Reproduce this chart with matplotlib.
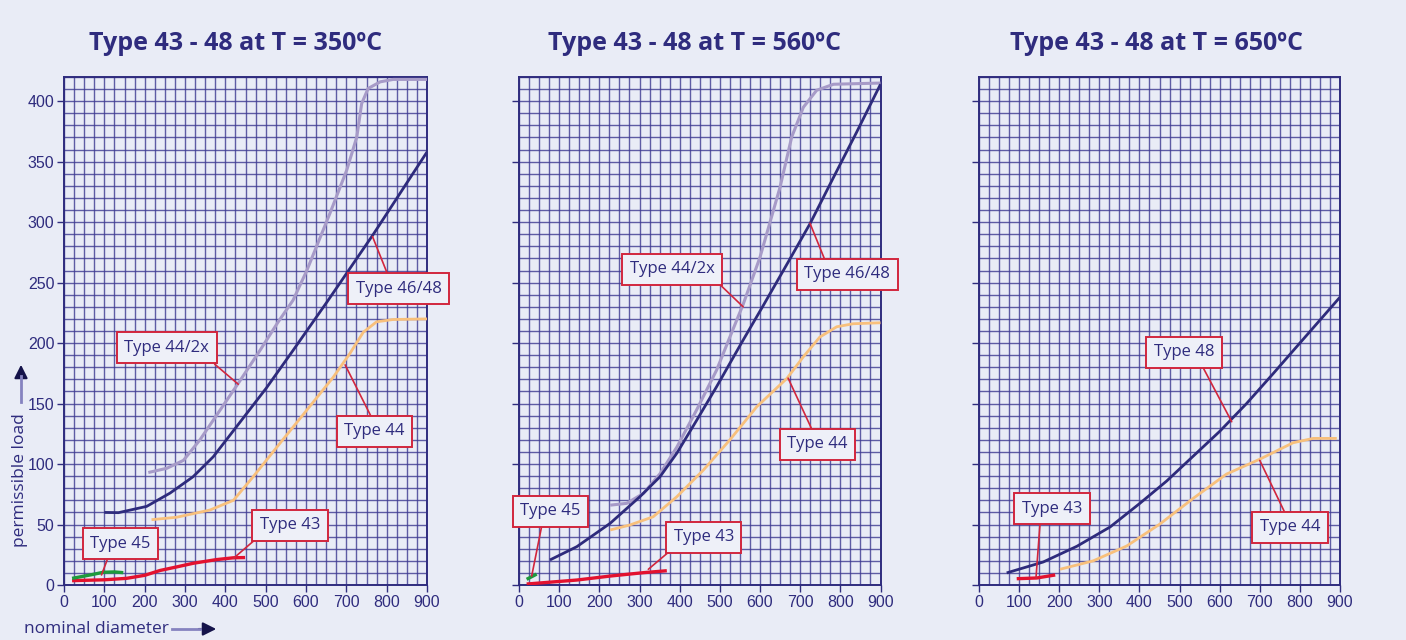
import matplotlib
matplotlib.use("Agg")
import matplotlib.pyplot as plt
from matplotlib.ticker import MultipleLocator
from matplotlib.patches import FancyArrowPatch
from matplotlib.lines import Line2D

# ---------------- data ----------------
titles = ["Type 43 - 48 at T = 350ºC", "Type 43 - 48 at T = 560ºC", "Type 43 - 48 at T = 650ºC"]
x_ticks = [0, 100, 200, 300, 400, 500, 600, 700, 800, 900]
y_ticks = [0, 50, 100, 150, 200, 250, 300, 350, 400]

# 350 ºC
p1_t4648_x = [100, 135, 205, 263, 320, 370, 428, 502, 568, 652, 767, 900]
p1_t4648_y = [60, 59.8, 65, 76, 89.5, 106, 131, 163, 194, 234, 290, 358]
p1_t442x_x = [209, 255, 296, 337, 387, 432, 486, 530, 568, 602, 659, 701, 726, 738, 754, 784, 816, 900]
p1_t442x_y = [93, 96.5, 103, 120, 144.6, 166.7, 194, 217, 235.5, 260, 307, 343, 370.5, 398, 410.5, 416, 418, 418]
p1_t44_x = [217, 279, 362, 420, 469, 535, 602, 668, 709, 742, 775, 816, 900]
p1_t44_y = [54, 56, 62, 70, 89.5, 117, 144.6, 172, 191.5, 209, 217.6, 219.5, 220]
p1_t43_x = [20, 100, 155, 200, 238, 280, 321, 378, 420, 449]
p1_t43_y = [3.6, 4.3, 5.5, 8, 12, 15, 18, 21, 22.5, 22.7]
p1_t45_x = [20, 65, 97, 125, 147]
p1_t45_y = [5.5, 8.3, 10.5, 10.8, 10.2]

# 560 ºC
p2_t4648_x = [77, 144, 227, 301, 351, 393, 442, 492, 558, 608, 665, 725, 783, 840, 900]
p2_t4648_y = [20.7, 31.7, 51, 73, 89.5, 109, 136, 164, 202.5, 231, 264, 299, 337, 374, 414]
p2_t442x_x = [227, 268, 310, 351, 393, 442, 492, 525, 558, 600, 650, 679, 708, 741, 783, 900]
p2_t442x_y = [66, 67.5, 75.8, 92, 114, 144.6, 177.7, 205, 232, 271, 329, 370.5, 395, 409, 414, 415]
p2_t44_x = [227, 276, 334, 393, 459, 525, 592, 667, 708, 749, 791, 832, 900]
p2_t44_y = [45.5, 49.6, 56.4, 73, 95, 120, 147.4, 170.8, 188.7, 205, 213.5, 216, 216.8]
p2_t43_x = [19, 144, 227, 310, 368]
p2_t43_y = [0.8, 4.1, 7.4, 10.2, 11.8]
p2_t45_x = [19, 44]
p2_t45_y = [4.7, 9]

# 650 ºC
p3_t48_x = [69, 160, 244, 327, 401, 468, 534, 600, 667, 734, 784, 850, 900]
p3_t48_y = [10, 19, 32, 48, 67.5, 86, 106.5, 127, 150, 175, 194, 219, 238]
p3_t44_x = [202, 285, 368, 451, 534, 617, 700, 783, 833, 892]
p3_t44_y = [13, 20, 32.2, 50.4, 71.6, 91.7, 104, 117.6, 121.2, 121.2]
p3_t43_x = [94, 144, 190]
p3_t43_y = [5.2, 5.8, 8.3]

# ---------------- style ----------------
BG = "#e9ecf6"
NAVY = "#2f2c7e"
GRID = "#3f3c92"
C_4648 = "#2e2b7c"
C_442X = "#a79bc8"
C_44 = "#f8c07c"
C_43 = "#e3122f"
C_45 = "#1e9a3c"
BOX_EC = "#d2263d"
FONT = "Open Sans"
TICKFONT = "Liberation Sans"

W, H = 1406, 640
fig = plt.figure(figsize=(W / 100, H / 100), dpi=100, facecolor=BG)

panels = [(64, 427), (519, 880.5), (979, 1340)]
title_cx = [236, 694, 1156]
ybot, ytop = 585, 77

series = [
    [(p1_t442x_x, p1_t442x_y, C_442X, 2.2), (p1_t4648_x, p1_t4648_y, C_4648, 2.0),
     (p1_t44_x, p1_t44_y, C_44, 2.0), (p1_t43_x, p1_t43_y, C_43, 2.4),
     (p1_t45_x, p1_t45_y, C_45, 2.4)],
    [(p2_t442x_x, p2_t442x_y, C_442X, 2.2), (p2_t4648_x, p2_t4648_y, C_4648, 2.0),
     (p2_t44_x, p2_t44_y, C_44, 2.0), (p2_t43_x, p2_t43_y, C_43, 2.4),
     (p2_t45_x, p2_t45_y, C_45, 2.4)],
    [(p3_t48_x, p3_t48_y, C_4648, 2.0), (p3_t44_x, p3_t44_y, C_44, 2.0),
     (p3_t43_x, p3_t43_y, C_43, 2.4)],
]

# label, point on curve, box centre, relpos of leader start
annotations = [
    [("Type 44/2x", (432, 166), (255, 196), (0.95, 0)),
     ("Type 46/48", (765, 288), (830, 245), (0.4, 1)),
     ("Type 44", (697, 182), (770, 127), (0.5, 1)),
     ("Type 43", (420, 22), (560, 49.5), (0.05, 0)),
     ("Type 45", (93, 8.3), (140, 34), (0.33, 0))],
    [("Type 44/2x", (558, 230), (382, 261), (0.97, 0)),
     ("Type 46/48", (724.5, 299), (817, 257), (0.27, 1)),
     ("Type 44", (670, 171), (743, 116.5), (0.46, 1)),
     ("Type 43", (322, 13), (460, 39.4), (0.05, 0)),
     ("Type 45", (31.6, 7.4), (78, 61), (0.38, 0))],
    [("Type 48", (630, 135), (511, 192.6), (0.75, 0)),
     ("Type 44", (700, 103), (775, 47.7), (0.47, 1)),
     ("Type 43", (142, 5.5), (182, 63), (0.31, 0))],
]

for i, (l, r) in enumerate(panels):
    ax = fig.add_axes([l / W, 1 - ybot / H, (r - l) / W, (ybot - ytop) / H])
    ax.set_facecolor(BG)
    ax.set_xlim(0, 900)
    ax.set_ylim(0, 420)
    ax.set_xticks(x_ticks)
    ax.set_yticks(y_ticks)
    ax.xaxis.set_minor_locator(MultipleLocator(25))
    ax.yaxis.set_minor_locator(MultipleLocator(10))
    ax.grid(which="both", color=GRID, lw=1.0, alpha=0.82)
    ax.set_axisbelow(True)
    ax.tick_params(which="minor", length=0)
    ax.tick_params(which="major", length=5, width=1.0, color=NAVY, labelcolor=NAVY,
                   labelsize=11.5, pad=2)
    for lab in ax.get_xticklabels() + ax.get_yticklabels():
        lab.set_family(TICKFONT)
    if i > 0:
        ax.tick_params(axis="y", labelleft=False)
    for s in ax.spines.values():
        s.set_color(NAVY)
        s.set_linewidth(1.4)

    for xs, ys, c, lw in series[i]:
        ax.plot(xs, ys, color=c, lw=lw, solid_capstyle="butt", zorder=3)

    for label, pt, tc, rp in annotations[i]:
        ax.annotate(label, xy=pt, xytext=tc, textcoords="data", ha="center", va="center",
                    fontsize=12, color=NAVY, family=FONT, annotation_clip=False, zorder=5,
                    bbox=dict(boxstyle="square,pad=0.45", fc="#eef0f8", ec=BOX_EC, lw=1.4),
                    arrowprops=dict(arrowstyle="-", color=BOX_EC, lw=1.2, relpos=rp,
                                    shrinkA=0, shrinkB=0))

    fig.text(title_cx[i] / W, 1 - 43 / H, titles[i], ha="center", va="center",
             fontsize=18, fontweight="bold", color=NAVY, family=FONT)

# axis captions with arrows
fig.text(20 / W, 1 - 480 / H, "permissible load", rotation=90, ha="center", va="center",
         fontsize=12.5, color=NAVY, family=FONT)
fig.text(24 / W, 1 - 629 / H, "nominal diameter", ha="left", va="center",
         fontsize=12.5, color=NAVY, family=FONT)

fig.add_artist(Line2D([172 / W, 200 / W], [1 - 629 / H, 1 - 629 / H], transform=fig.transFigure,
                      color="#8683c0", lw=2))
fig.add_artist(FancyArrowPatch((196 / W, 1 - 629 / H), (219 / W, 1 - 629 / H),
                               transform=fig.transFigure, arrowstyle="-|>", mutation_scale=20,
                               color="#15134a", lw=1.5))
fig.add_artist(Line2D([21 / W, 21 / W], [1 - 402 / H, 1 - 376 / H], transform=fig.transFigure,
                      color="#8683c0", lw=2))
fig.add_artist(FancyArrowPatch((21 / W, 1 - 380 / H), (21 / W, 1 - 362 / H),
                               transform=fig.transFigure, arrowstyle="-|>", mutation_scale=20,
                               color="#15134a", lw=1.5))

fig.savefig("out.png", dpi=100, facecolor=BG)
